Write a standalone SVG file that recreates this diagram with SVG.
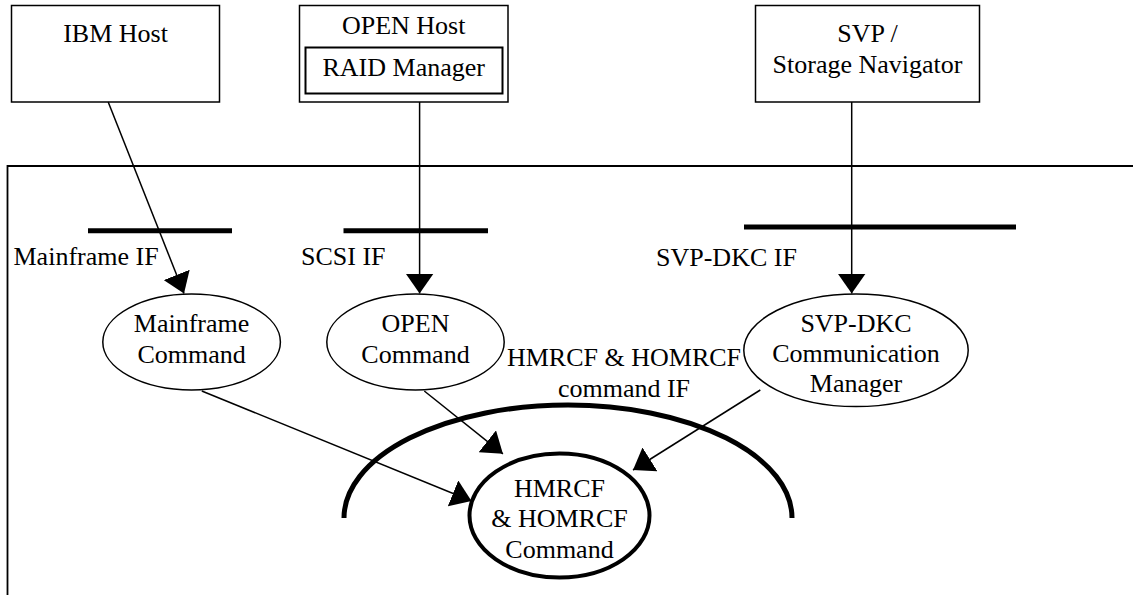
<svg xmlns="http://www.w3.org/2000/svg" width="1133" height="595" viewBox="0 0 1133 595">
<style>
text{font-family:"Liberation Serif","Times New Roman",serif;font-size:26px;fill:#000}
.c{text-anchor:middle}
.box{fill:#fff;stroke:#000;stroke-width:1.5}
.ell{fill:#fff;stroke:#000;stroke-width:1.5}
.bar{stroke:#000;stroke-width:5}
.con{stroke:#000;stroke-width:1.5;fill:none}
</style>
<defs>
<marker id="ah" viewBox="0 0 20 28" refX="20" refY="14" markerWidth="20" markerHeight="28" markerUnits="userSpaceOnUse" orient="auto">
<path d="M0,0 L20,14 L0,28 Z" fill="#000"/>
</marker>
</defs>
<rect width="1133" height="595" fill="#fff"/>
<g id="storage-frame">
<path d="M1133,166 L7.5,166 L7.5,595" fill="none" stroke="#000" stroke-width="1.8"/>
</g>
<g id="ibm-host">
<rect class="box" x="11.5" y="5.5" width="208" height="96.5"/>
<text class="c" x="115.5" y="42">IBM Host</text>
</g>
<g id="open-host">
<rect class="box" x="299.5" y="5.5" width="208.5" height="96.5"/>
<text class="c" x="403.7" y="33.5">OPEN Host</text>
<g id="raid-manager">
<rect x="305.5" y="47.5" width="197" height="46" fill="#fff" stroke="#000" stroke-width="2"/>
<text class="c" x="403.7" y="76">RAID Manager</text>
</g>
</g>
<g id="svp">
<rect class="box" x="755.5" y="5.5" width="224" height="96.5"/>
<text class="c" x="867.5" y="42">SVP /</text>
<text class="c" x="867.5" y="73">Storage Navigator</text>
</g>
<g id="mainframe-if">
<line class="bar" x1="88" y1="230.7" x2="232" y2="230.7"/>
<text x="13.5" y="265">Mainframe IF</text>
</g>
<g id="scsi-if">
<line class="bar" x1="343.5" y1="230.7" x2="488" y2="230.7"/>
<text x="301" y="265">SCSI IF</text>
</g>
<g id="svp-dkc-if">
<line class="bar" x1="744" y1="227" x2="1016" y2="227" stroke-width="6"/>
<text x="656" y="265.5">SVP-DKC IF</text>
</g>
<g id="command-if">
<path d="M344,518 A224,113 0 0 1 792,518" fill="none" stroke="#000" stroke-width="5"/>
<text class="c" x="624" y="366">HMRCF &amp; HOMRCF</text>
<text class="c" x="624" y="397">command IF</text>
</g>
<g id="connectors">
<line class="con" x1="108.2" y1="102" x2="184" y2="293.5" marker-end="url(#ah)"/>
<line class="con" x1="419.6" y1="102" x2="419.6" y2="293.5" marker-end="url(#ah)"/>
<line class="con" x1="851.7" y1="102" x2="851.7" y2="293.5" marker-end="url(#ah)"/>
<line class="con" x1="201.8" y1="391" x2="471.5" y2="501" marker-end="url(#ah)"/>
<line class="con" x1="424.3" y1="391" x2="502.9" y2="453.8" marker-end="url(#ah)"/>
<line class="con" x1="760.3" y1="390" x2="633" y2="470" marker-end="url(#ah)"/>
</g>
<g id="mainframe-command">
<ellipse class="ell" cx="191.6" cy="342" rx="88.8" ry="48" fill-opacity="0"/>
<text class="c" x="191.6" y="331.7">Mainframe</text>
<text class="c" x="191.6" y="362.7">Command</text>
</g>
<g id="open-command">
<ellipse class="ell" cx="415.5" cy="342" rx="88.7" ry="48" fill-opacity="0"/>
<text class="c" x="415.5" y="331.7">OPEN</text>
<text class="c" x="415.5" y="362.7">Command</text>
</g>
<g id="svp-dkc-manager">
<ellipse class="ell" cx="856" cy="350.3" rx="112.2" ry="56.3" fill-opacity="0"/>
<text class="c" x="856" y="331.7">SVP-DKC</text>
<text class="c" x="856" y="361.7">Communication</text>
<text class="c" x="856" y="391.7">Manager</text>
</g>
<g id="hmrcf-command">
<ellipse cx="559.5" cy="515.5" rx="90" ry="62" fill="none" stroke="#000" stroke-width="4"/>
<text class="c" x="559.5" y="496.7">HMRCF</text>
<text class="c" x="559.5" y="527.3">&amp; HOMRCF</text>
<text class="c" x="559.5" y="558.3">Command</text>
</g>
</svg>
